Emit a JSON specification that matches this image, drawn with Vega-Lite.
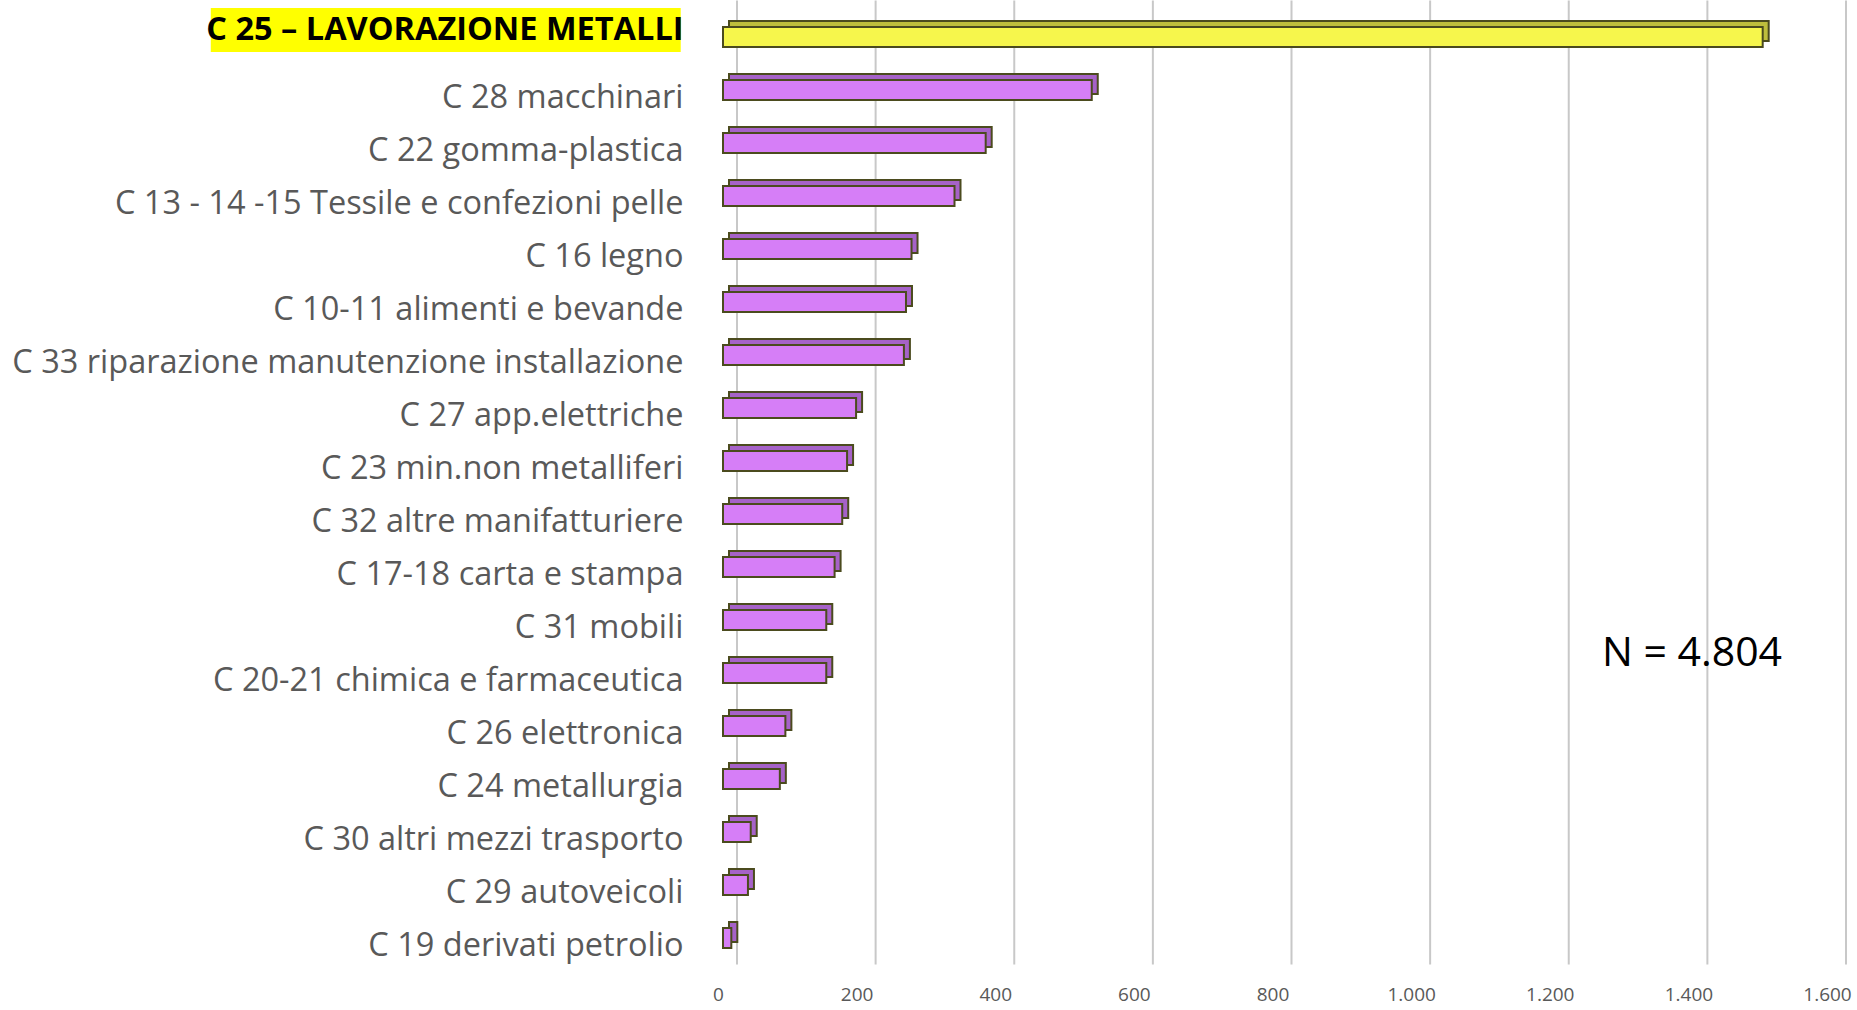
{
  "$schema": "https://vega.github.io/schema/vega-lite/v6.json",
  "autosize": {"type": "none"},
  "padding": {"left": 723, "top": 10.5, "right": 25, "bottom": 45.5},
  "width": 1109,
  "height": 954,
  "background": "white",
  "config": {"view": {"stroke": null}},
  "datasets": {
    "settori": [
      {"settore": "C 25 – LAVORAZIONE METALLI", "n": 1500},
      {"settore": "C 28 macchinari", "n": 532},
      {"settore": "C 22 gomma-plastica", "n": 379},
      {"settore": "C 13 - 14 -15 Tessile e confezioni pelle", "n": 334},
      {"settore": "C 16 legno", "n": 272},
      {"settore": "C 10-11 alimenti e bevande", "n": 264},
      {"settore": "C 33 riparazione manutenzione installazione", "n": 261},
      {"settore": "C 27 app.elettriche ", "n": 192},
      {"settore": "C 23 min.non metalliferi", "n": 179},
      {"settore": "C 32 altre manifatturiere", "n": 172},
      {"settore": "C 17-18 carta e stampa", "n": 161},
      {"settore": "C 31 mobili", "n": 149},
      {"settore": "C 20-21 chimica e farmaceutica", "n": 149},
      {"settore": "C 26 elettronica", "n": 90},
      {"settore": "C 24 metallurgia", "n": 82},
      {"settore": "C 30 altri mezzi trasporto", "n": 40},
      {"settore": "C 29 autoveicoli", "n": 36},
      {"settore": "C 19 derivati petrolio", "n": 12}
    ],
    "ticks": [
      {"v": 0}, {"v": 200}, {"v": 400}, {"v": 600}, {"v": 800},
      {"v": 1000}, {"v": 1200}, {"v": 1400}, {"v": 1600}
    ]
  },
  "layer": [
    {
      "data": {"name": "ticks"},
      "mark": {"type": "rule", "color": "#C8C8C8", "strokeWidth": 2, "xOffset": 14, "yOffset": -10, "y2Offset": -10},
      "encoding": {
        "x": {"field": "v", "type": "quantitative", "scale": {"domain": [0, 1600], "nice": false, "zero": false}}
      }
    },
    {
      "data": {"name": "settori"},
      "transform": [{"filter": "datum.settore === 'C 25 – LAVORAZIONE METALLI'"}],
      "mark": {"type": "bar", "color": "#FFFF00", "size": 44, "yOffset": -7},
      "encoding": {
        "y": {"field": "settore", "type": "nominal", "sort": null, "scale": {"paddingInner": 0, "paddingOuter": 0}},
        "x": {"datum": -739, "type": "quantitative", "scale": {"domain": [0, 1600], "nice": false, "zero": false}},
        "x2": {"datum": -61}
      }
    },
    {
      "data": {"name": "settori"},
      "mark": {"type": "bar", "size": 20, "xOffset": 6, "yOffset": -6, "stroke": "#4B4B1E", "strokeWidth": 2},
      "encoding": {
        "y": {"field": "settore", "type": "nominal", "sort": null, "scale": {"paddingInner": 0, "paddingOuter": 0}},
        "x": {"field": "n", "type": "quantitative", "scale": {"domain": [0, 1600], "nice": false, "zero": false}},
        "fill": {"condition": {"test": "datum.settore === 'C 25 – LAVORAZIONE METALLI'", "value": "#BEBE3C"}, "value": "#A662C8"}
      }
    },
    {
      "data": {"name": "settori"},
      "mark": {"type": "bar", "size": 20, "stroke": "#4B4B1E", "strokeWidth": 2},
      "encoding": {
        "y": {
          "field": "settore", "type": "nominal", "sort": null,
          "scale": {"paddingInner": 0, "paddingOuter": 0},
          "axis": {
            "title": null, "domain": false, "ticks": false, "grid": false, "zindex": 2,
            "labelPadding": 40, "labelLimit": 1000,
            "labelFont": "Open Sans", "labelFontSize": 32.5,
            "labelColor": {"condition": {"test": "datum.value === 'C 25 – LAVORAZIONE METALLI'", "value": "#000000"}, "value": "#595959"},
            "labelFontWeight": {"condition": {"test": "datum.value === 'C 25 – LAVORAZIONE METALLI'", "value": "bold"}, "value": "normal"},
            "labelOffset": {"condition": {"test": "datum.value === 'C 25 – LAVORAZIONE METALLI'", "value": -7}, "value": 8}
          }
        },
        "x": {
          "field": "n", "type": "quantitative",
          "scale": {"domain": [0, 1600], "nice": false, "zero": false},
          "axis": {
            "title": null, "domain": false, "ticks": false, "grid": false,
            "values": [0, 200, 400, 600, 800, 1000, 1200, 1400, 1600],
            "labelExpr": "replace(format(datum.value, ','), ',', '.')",
            "labelFont": "Open Sans", "labelFontSize": 19, "labelColor": "#595959",
            "labelPadding": 21, "labelOffset": -5, "labelFlush": false
          }
        },
        "fill": {"condition": {"test": "datum.settore === 'C 25 – LAVORAZIONE METALLI'", "value": "#F6F64C"}, "value": "#D67EF7"}
      }
    },
    {
      "data": {"name": "settori"},
      "transform": [{"filter": "datum.settore === 'C 20-21 chimica e farmaceutica'"}],
      "mark": {"type": "text", "font": "Open Sans", "fontSize": 41, "color": "#000000", "align": "center", "baseline": "middle", "dy": -19},
      "encoding": {
        "y": {"field": "settore", "type": "nominal", "sort": null, "scale": {"paddingInner": 0, "paddingOuter": 0}},
        "x": {"datum": 1398, "type": "quantitative", "scale": {"domain": [0, 1600], "nice": false, "zero": false}},
        "text": {"value": "N = 4.804"}
      }
    }
  ]
}
